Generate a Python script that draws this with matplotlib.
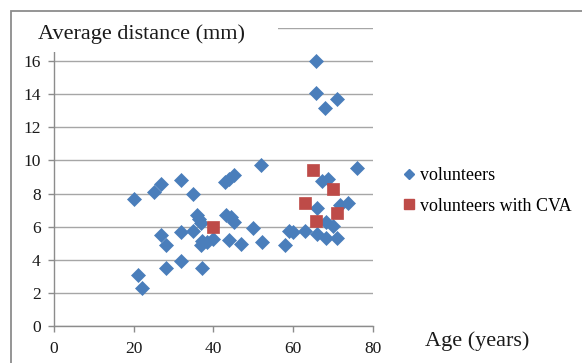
import matplotlib.pyplot as plt
from matplotlib.patches import Rectangle
from matplotlib.lines import Line2D

# volunteers (age, average distance)
vol_age = [20.0, 21.0, 22.0, 25.0, 26.9, 26.9, 28.1, 28.1, 31.8, 31.8, 31.8,
           34.8, 34.8, 36.0, 36.5, 37.0, 37.1, 36.9, 37.1, 38.5, 39.9,
           43.0, 44.0, 45.1, 43.2, 44.4, 45.2, 44.0, 46.9, 50.0, 52.0, 52.1,
           57.9, 59.1, 60.0, 63.1, 66.0, 68.3, 70.0, 66.0, 68.3, 71.0,
           67.3, 68.9, 71.9, 73.9, 76.1, 65.8, 65.8, 71.0, 68.1]
vol_dist = [7.65, 3.05, 2.3, 8.08, 8.6, 5.47, 4.87, 3.52, 8.8, 5.68, 3.9,
            7.95, 5.72, 6.68, 6.45, 6.2, 5.12, 4.86, 3.52, 5.06, 5.23,
            8.72, 8.85, 9.1, 6.69, 6.55, 6.28, 5.17, 4.92, 5.9, 9.72, 5.07,
            4.87, 5.71, 5.67, 5.73, 7.15, 6.28, 6.05, 5.53, 5.33, 5.33,
            8.75, 8.87, 7.3, 7.45, 9.55, 16.0, 14.1, 13.75, 13.2]

# volunteers with CVA
cva_age = [40.0, 65.0, 70.0, 63.1, 71.0, 65.8]
cva_dist = [5.95, 9.45, 8.3, 7.4, 6.85, 6.32]

blue = '#4a7ebb'
red = '#be4b48'
grey = '#8c8c8c'
W, H = 582, 363

plt.rcParams['font.family'] = ['Liberation Serif', 'DejaVu Serif']

fig = plt.figure(figsize=(W / 100, H / 100), dpi=100)

def fx(px):
    return px / W

def fy(py):
    return 1 - py / H

ax = fig.add_axes([fx(54), fy(325.7), fx(372.7) - fx(54), fy(28.3) - fy(325.7)])

ax.plot(vol_age, vol_dist, 'D', color=blue, markersize=7, markeredgewidth=0.5,
        markeredgecolor=blue, label='volunteers', zorder=3)
ax.plot(cva_age, cva_dist, 's', color=red, markersize=9, markeredgewidth=0.5,
        markeredgecolor=red, label='volunteers with CVA', zorder=4)

ax.set_xlim(0, 80)
ax.set_ylim(0, 18)
ax.set_xticks([0, 20, 40, 60, 80])
ax.set_yticks([0, 2, 4, 6, 8, 10, 12, 14, 16, 18])
ax.set_yticklabels(['0', '2', '4', '6', '8', '10', '12', '14', '16', ''])
ax.grid(axis='y', color='#a6a6a6', linewidth=1.0)
ax.set_axisbelow(True)
for s in ['top', 'right']:
    ax.spines[s].set_visible(False)
for s in ['left', 'bottom']:
    ax.spines[s].set_color(grey)
    ax.spines[s].set_linewidth(1.0)
ax.tick_params(axis='both', direction='out', length=4, width=1.0, color=grey,
               labelsize=12.5, labelcolor='#1a1a1a')
ax.tick_params(axis='y', pad=5.5)
ax.tick_params(axis='x', pad=7)

# outer chart border
fig.add_artist(Rectangle((fx(11), fy(400)), fx(700), fy(11) - fy(400),
                         transform=fig.transFigure, fill=False,
                         edgecolor=grey, linewidth=1.3, zorder=0.5))

# title box covering the top of the axis
fig.add_artist(Rectangle((fx(20), fy(51.7)), fx(278) - fx(20), fy(14) - fy(51.7),
                         transform=fig.transFigure, facecolor='white',
                         edgecolor='none', zorder=1))
fig.text(fx(38), fy(34), 'Average distance (mm)', fontsize=16,
         ha='left', va='center', color='#1a1a1a', zorder=2)

fig.text(fx(425), fy(341), 'Age (years)', fontsize=16, ha='left',
         va='center', color='#1a1a1a', zorder=2)

handles = [Line2D([], [], linestyle='none', marker='D', color=blue, markersize=5.5),
           Line2D([], [], linestyle='none', marker='s', color=red, markersize=6.5)]
fig.legend(handles, ['volunteers', 'volunteers with CVA'], loc='center left',
           bbox_to_anchor=(fx(403), fy(191)), frameon=False, fontsize=13,
           handlelength=0.7, handletextpad=0.25, labelspacing=0.75,
           borderpad=0, borderaxespad=0)

fig.savefig('out.png', dpi=100)
